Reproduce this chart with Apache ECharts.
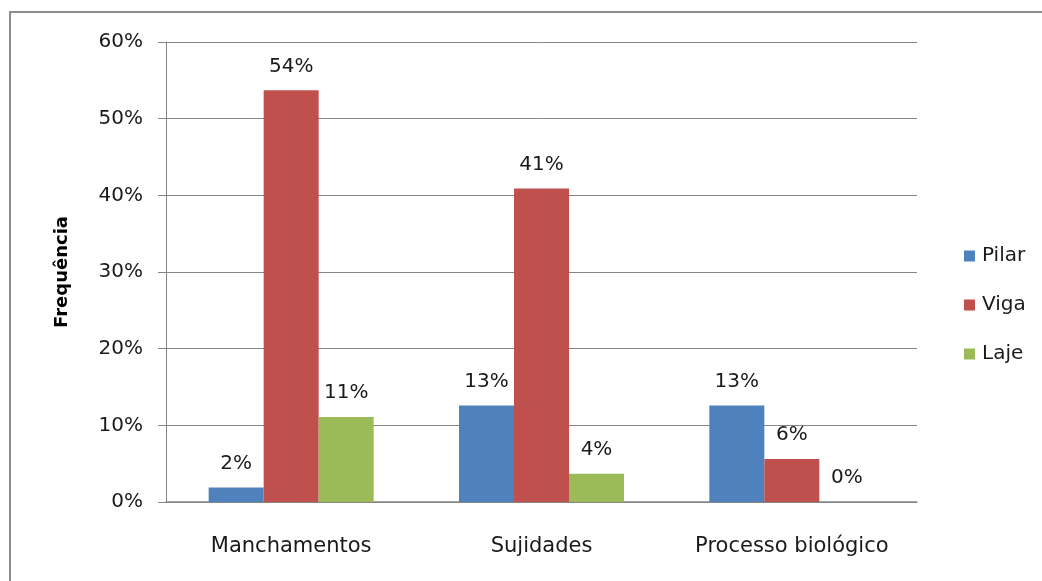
<!DOCTYPE html>
<html>
<head>
<meta charset="utf-8">
<script src="https://cdn.jsdelivr.net/npm/echarts@6/dist/echarts.min.js"></script>
<style>
  html, body { margin: 0; padding: 0; background: #fff; }
  #chart { width: 1042px; height: 581px; }
</style>
</head>
<body>
<div id="chart"></div>
<script>
// Data (percent)
const categories = ['Manchamentos', 'Sujidades', 'Processo biológico'];
const pilar = [1.9, 12.6, 12.6];
const viga = [53.7, 40.9, 5.6];
const laje = [11.1, 3.7, 0];
const yTicks = [0, 10, 20, 30, 40, 50, 60];

const font = '"DejaVu Sans", sans-serif';
const chart = echarts.init(document.getElementById('chart'));

const labelCfg = {
  show: true,
  position: 'top',
  distance: 14,
  color: '#1a1a1a',
  fontFamily: font,
  fontSize: 20,
  formatter: p => Math.round(p.value) + '%'
};

const mkSeries = (name, data, color) => ({
  name,
  type: 'bar',
  data,
  barWidth: 55,
  barGap: '0%',
  itemStyle: { color },
  label: labelCfg
});

chart.setOption({
  animation: false,
  graphic: [{
    type: 'rect',
    shape: { x: 10, y: 12, width: 1100, height: 700 },
    style: { fill: 'none', stroke: '#8c8c8c', lineWidth: 2 },
    silent: true
  }],
  legend: {
    orient: 'vertical',
    left: 959,
    top: 241,
    itemWidth: 11,
    itemHeight: 11,
    itemGap: 29,
    icon: 'rect',
    textStyle: { fontFamily: font, fontSize: 20, color: '#1a1a1a', padding: [0, 0, 0, 2] },
    data: ['Pilar', 'Viga', 'Laje']
  },
  grid: { left: 166, right: 125, top: 42, bottom: 79 },
  xAxis: {
    type: 'category',
    data: categories,
    axisLine: { lineStyle: { color: '#868686', width: 1.5 } },
    axisTick: { show: false },
    axisLabel: { interval: 0, margin: 34, color: '#1a1a1a', fontFamily: font, fontSize: 21 }
  },
  yAxis: {
    type: 'value',
    min: yTicks[0],
    max: yTicks[yTicks.length - 1],
    interval: 10,
    name: 'Frequência',
    nameLocation: 'middle',
    nameGap: 95,
    nameTextStyle: { fontFamily: font, fontSize: 18, fontWeight: 'bold', color: '#000' },
    axisLine: { show: true, lineStyle: { color: '#868686' } },
    axisTick: { show: true, length: 8, lineStyle: { color: '#868686' } },
    axisLabel: { margin: 23, color: '#1a1a1a', fontFamily: font, fontSize: 20, formatter: v => v + '%' },
    splitLine: { lineStyle: { color: '#868686', width: 1 } }
  },
  series: [
    mkSeries('Pilar', pilar, '#4F81BD'),
    mkSeries('Viga', viga, '#C0504D'),
    mkSeries('Laje', laje, '#9BBB59')
  ]
});
</script>
</body>
</html>
